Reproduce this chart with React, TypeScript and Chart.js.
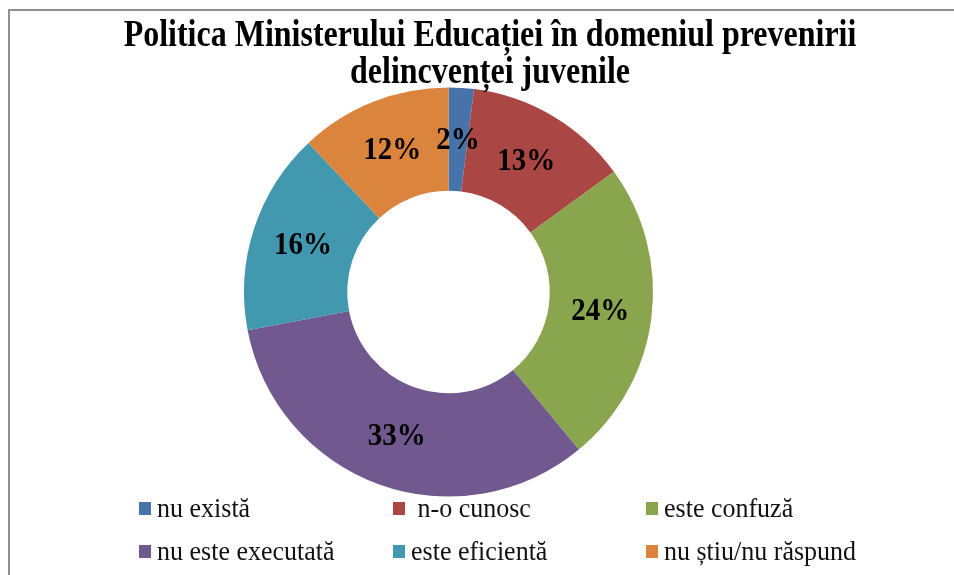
import React, { useEffect, useRef } from "react";
import { Chart, registerables } from "chart.js";

Chart.register(...registerables);

const titleLines = [
  "Politica Ministerului Educației în domeniul prevenirii",
  "delincvenței juvenile",
];
const categories = [
  "nu există",
  " n-o cunosc",
  "este confuză",
  "nu este executată",
  "este eficientă",
  "nu știu/nu răspund",
];
const values = [2, 13, 24, 33, 16, 12];
const colors = ["#4573AA", "#AA4643", "#89A54E", "#71588F", "#4198AF", "#DB843D"];

const SERIF = '"Liberation Serif", "Times New Roman", serif';

function stretchedText(ctx: CanvasRenderingContext2D, text: string, x: number, y: number, sy: number) {
  ctx.save();
  ctx.translate(x, y);
  ctx.scale(1, sy);
  ctx.fillText(text, 0, 0);
  ctx.restore();
}

const customPlugin = {
  id: "customDraw",
  afterDraw(chart: any) {
    const ctx = chart.ctx as CanvasRenderingContext2D;
    ctx.save();
    // title
    ctx.fillStyle = "#000";
    ctx.textAlign = "center";
    ctx.textBaseline = "middle";
    ctx.font = `bold 32px ${SERIF}`;
    titleLines.forEach((line, i) => stretchedText(ctx, line, 490, 36 + i * 37, 1.18));

    // data labels
    const meta = chart.getDatasetMeta(0);
    ctx.font = `bold 29px ${SERIF}`;
    meta.data.forEach((arc: any, i: number) => {
      const p = arc.tooltipPosition(false);
      const v = chart.data.datasets[0].data[i];
      stretchedText(ctx, `${v}%`, p.x, p.y + 1, 1.1);
    });

    // legend (3 columns x 2 rows)
    const colX = [139, 393, 646];
    const rowY = [509, 552];
    const labels = chart.data.labels as string[];
    const bg = chart.data.datasets[0].backgroundColor as string[];
    ctx.textAlign = "left";
    ctx.font = `26px ${SERIF}`;
    labels.forEach((lab, i) => {
      const x = colX[i % 3];
      const y = rowY[Math.floor(i / 3)];
      ctx.fillStyle = bg[i];
      ctx.fillRect(x, y - 7, 12, 13);
      ctx.fillStyle = "#111";
      stretchedText(ctx, lab, x + 18, y + 1, 1.08);
    });
    ctx.restore();
  },
};

export default function App() {
  const canvasRef = useRef<HTMLCanvasElement | null>(null);

  useEffect(() => {
    if (!canvasRef.current) return;
    const chart = new Chart(canvasRef.current, {
      type: "doughnut",
      data: {
        labels: categories,
        datasets: [
          {
            data: values,
            backgroundColor: colors,
            borderWidth: 0,
          },
        ],
      },
      options: {
        animation: false,
        responsive: true,
        maintainAspectRatio: false,
        cutout: "49.5%",
        layout: {
          padding: { top: 87, bottom: 78, left: 244, right: 301 },
        },
        plugins: {
          legend: { display: false },
          title: { display: false },
          tooltip: { enabled: false },
        },
      },
      plugins: [customPlugin],
    });
    return () => chart.destroy();
  }, []);

  return (
    <div
      style={{
        position: "absolute",
        left: 0,
        top: 0,
        width: 954,
        height: 575,
        background: "#fff",
        overflow: "hidden",
      }}
    >
      <div
        style={{
          position: "absolute",
          left: 8,
          top: 9,
          width: 960,
          height: 580,
          borderTop: "2px solid #8f8f8f",
          borderLeft: "2px solid #8f8f8f",
          boxSizing: "border-box",
        }}
      />
      <div style={{ position: "absolute", left: 0, top: 0, width: 954, height: 575 }}>
        <canvas ref={canvasRef} />
      </div>
    </div>
  );
}
